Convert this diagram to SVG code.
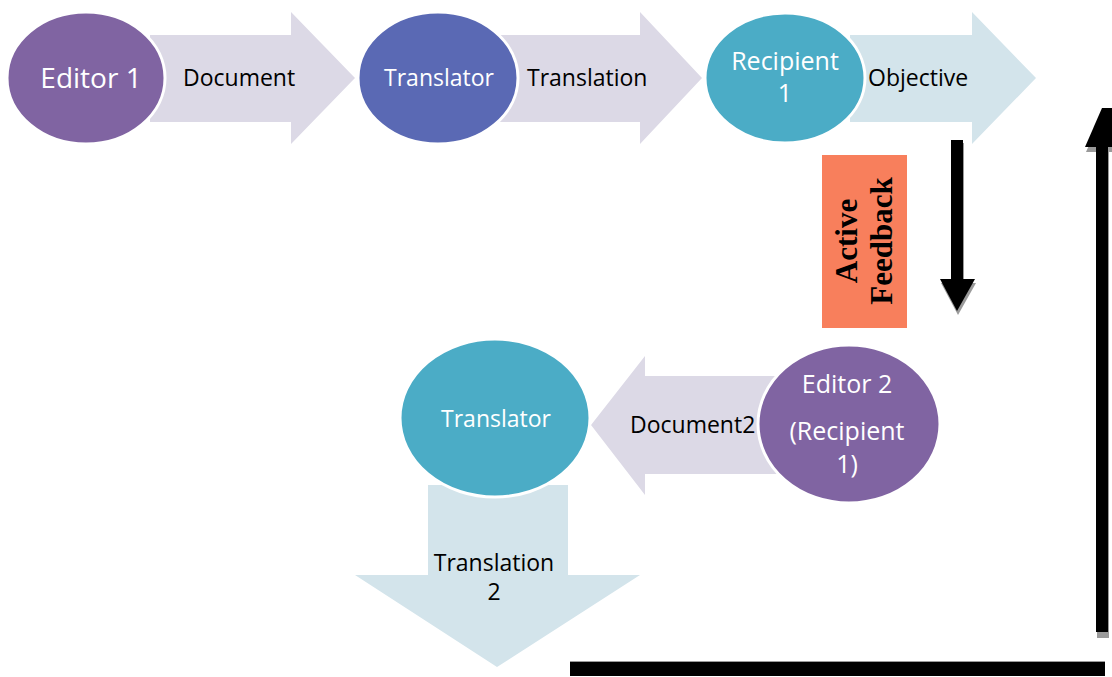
<svg xmlns="http://www.w3.org/2000/svg" width="1112" height="677" viewBox="0 0 1112 677">
<style>
.lav{fill:#dcd9e6;}
.lb{fill:#d3e4eb;}
.node{stroke:#ffffff;stroke-width:3;}
.wt{fill:#ffffff;font-family:"Open Sans","Liberation Sans",sans-serif;text-anchor:middle;}
.bt{fill:#000000;font-family:"Open Sans","Liberation Sans",sans-serif;font-size:23px;}
.fb{fill:#000000;font-family:"Liberation Serif","Times New Roman",serif;font-weight:bold;font-size:31px;text-anchor:middle;}
.blk{fill:#000000;}
.shd{fill:#9a9a9a;}
</style>
<g id="connectors">
  <polygon class="lav" points="150,35 291,35 291,12 355,78 291,144 291,122 150,122"/>
  <text class="bt" x="183" y="86">Document</text>
  <polygon class="lav" points="500,35 640,35 640,12 702,78 640,144 640,122 500,122"/>
  <text class="bt" x="527" y="86">Translation</text>
  <polygon class="lb" points="850,35 972,35 972,12 1036,78 972,144 972,122 850,122"/>
  <text class="bt" x="868" y="86">Objective</text>
  <polygon class="lav" points="780,376 645,376 645,356 591,425 645,495 645,474 780,474"/>
  <text class="bt" x="630" y="433">Document2</text>
  <polygon class="lb" points="428,485 568,485 568,575 640,575 497,667 355,575 428,575"/>
  <text class="bt" x="494" y="571" text-anchor="middle">Translation</text>
  <text class="bt" x="494" y="600" text-anchor="middle">2</text>
  <polygon class="shd" points="952,143 964,143 964,283 976,283 958,315 941,283 952,283"/>
  <polygon class="blk" points="951,140 963,140 963,279 975,279 957,311 940,279 951,279"/>
  <polygon class="shd" points="1097,152 1109,152 1109,638 1097,638"/>
  <polygon class="shd" points="1086,152 1103,114 1114,152"/>
  <polygon class="blk" points="1096,146 1108,146 1108,632 1096,632"/>
  <polygon class="blk" points="1085,147 1102,108 1114,108 1114,147"/>
  <rect x="570" y="662" width="535" height="14" fill="#000000"/>
  <rect x="570" y="661" width="535" height="1" fill="#9a9a9a"/>
</g>
<g id="editor1">
  <ellipse class="node" cx="86" cy="78" rx="79" ry="66" fill="#8064a2"/>
  <text class="wt" x="91" y="88" font-size="28">Editor 1</text>
</g>
<g id="translator1">
  <ellipse class="node" cx="438" cy="78" rx="80" ry="66" fill="#5a69b4"/>
  <text class="wt" x="439" y="86" font-size="23">Translator</text>
</g>
<g id="recipient1">
  <ellipse class="node" cx="785" cy="78" rx="80" ry="65" fill="#4bacc6"/>
  <text class="wt" x="785" y="70" font-size="25">Recipient</text>
  <text class="wt" x="785" y="102" font-size="25">1</text>
</g>
<g id="feedback">
  <rect x="822" y="155" width="85" height="173" fill="#f87f5c"/>
  <text class="fb" transform="translate(857,241) rotate(-90)">Active</text>
  <text class="fb" transform="translate(892,241) rotate(-90)">Feedback</text>
</g>
<g id="translator2">
  <ellipse class="node" cx="495" cy="418" rx="95" ry="79" fill="#4bacc6"/>
  <text class="wt" x="496" y="427" font-size="23">Translator</text>
</g>
<g id="editor2">
  <ellipse class="node" cx="849" cy="424" rx="91" ry="79" fill="#8064a2"/>
  <text class="wt" x="847" y="393" font-size="25">Editor 2</text>
  <text class="wt" x="847" y="440" font-size="25">(Recipient</text>
  <text class="wt" x="847" y="473" font-size="25">1)</text>
</g>
</svg>
